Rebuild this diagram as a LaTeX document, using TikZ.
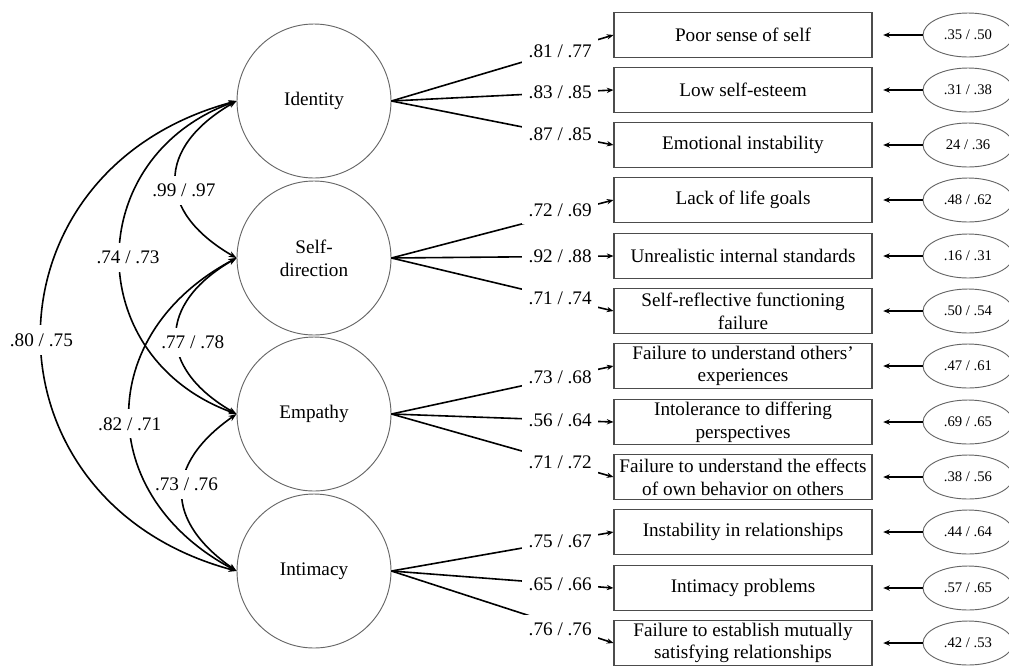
\documentclass[tikz,border=0pt]{standalone}
\usepackage{fontspec}
\setmainfont{Liberation Serif}
\usepackage{tikz}
\usetikzlibrary{arrows.meta,shapes.geometric}

\begin{document}
\begin{tikzpicture}[x=0.75pt, y=0.75pt,
    font=\fontsize{14.4}{17}\selectfont,
    latent/.style={circle, draw=black!60, line width=0.7pt, minimum size=115.5pt, align=center, inner sep=0pt},
    item/.style={rectangle, draw=black!70, line width=0.8pt, minimum width=193.5pt, minimum height=33.75pt, align=center, inner sep=1pt},
    err/.style={ellipse, draw=black!60, line width=0.7pt, minimum width=67.5pt, minimum height=33pt, inner sep=0pt, font=\fontsize{11}{13}\selectfont},
    load/.style={line width=1.2pt, -{Stealth[length=5pt, width=4pt]}},
    resid/.style={line width=1.1pt, shorten >=8pt, -{Stealth[length=5pt, width=4pt]}},
    cov/.style={line width=1.2pt, {Stealth[length=6pt, width=4.5pt]}-{Stealth[length=6pt, width=4.5pt]}},
    coef/.style={fill=white, inner xsep=5pt, inner ysep=6pt},
  ]
  \useasboundingbox (0,0) rectangle (1009,-665);

  % latent factors
  \node[latent] (Identity) at (314,-101) {Identity};
  \node[latent] (SelfDir) at (314,-258) {Self-\\direction};
  \node[latent] (Empathy) at (314,-414) {Empathy};
  \node[latent] (Intimacy) at (314,-571) {Intimacy};

  % observed items
  \node[item] (b1) at (743,-35) {Poor sense of self};
  \node[item] (b2) at (743,-90) {Low self-esteem};
  \node[item] (b3) at (743,-145) {Emotional instability};
  \node[item] (b4) at (743,-200) {Lack of life goals};
  \node[item] (b5) at (743,-256) {Unrealistic internal standards};
  \node[item] (b6) at (743,-311) {Self-reflective functioning\\failure};
  \node[item] (b7) at (743,-366) {Failure to understand others'\\experiences};
  \node[item] (b8) at (743,-422) {Intolerance to differing\\perspectives};
  \node[item] (b9) at (743,-477) {Failure to understand the effects\\of own behavior on others};
  \node[item] (b10) at (743,-532) {Instability in relationships};
  \node[item] (b11) at (743,-588) {Intimacy problems};
  \node[item] (b12) at (743,-643) {Failure to establish mutually\\satisfying relationships};

  % residuals
  \node[err] (e1) at (968,-35) {.35 / .50};
  \node[err] (e2) at (968,-90) {.31 / .38};
  \node[err] (e3) at (968,-145) {24 / .36};
  \node[err] (e4) at (968,-200) {.48 / .62};
  \node[err] (e5) at (968,-256) {.16 / .31};
  \node[err] (e6) at (968,-311) {.50 / .54};
  \node[err] (e7) at (968,-366) {.47 / .61};
  \node[err] (e8) at (968,-422) {.69 / .65};
  \node[err] (e9) at (968,-477) {.38 / .56};
  \node[err] (e10) at (968,-532) {.44 / .64};
  \node[err] (e11) at (968,-588) {.57 / .65};
  \node[err] (e12) at (968,-643) {.42 / .53};

  % loadings
  \draw[load] (Identity.east) -- (b1.west) node[coef, pos=0.76] {.81 / .77};
  \draw[load] (Identity.east) -- (b2.west) node[coef, pos=0.76] {.83 / .85};
  \draw[load] (Identity.east) -- (b3.west) node[coef, pos=0.76] {.87 / .85};
  \draw[load] (SelfDir.east) -- (b4.west) node[coef, pos=0.76, yshift=3pt] {.72 / .69};
  \draw[load] (SelfDir.east) -- (b5.west) node[coef, pos=0.76] {.92 / .88};
  \draw[load] (SelfDir.east) -- (b6.west) node[coef, pos=0.76] {.71 / .74};
  \draw[load] (Empathy.east) -- (b7.west) node[coef, pos=0.76] {.73 / .68};
  \draw[load] (Empathy.east) -- (b8.west) node[coef, pos=0.76] {.56 / .64};
  \draw[load] (Empathy.east) -- (b9.west) node[coef, pos=0.76] {.71 / .72};
  \draw[load] (Intimacy.east) -- (b10.west) node[coef, pos=0.76] {.75 / .67};
  \draw[load] (Intimacy.east) -- (b11.west) node[coef, pos=0.76] {.65 / .66};
  \draw[load] (Intimacy.east) -- (b12.west) node[coef, pos=0.76, yshift=-3pt] {.76 / .76};

  % error terms
  \draw[resid] (e1) -- (b1);
  \draw[resid] (e2) -- (b2);
  \draw[resid] (e3) -- (b3);
  \draw[resid] (e4) -- (b4);
  \draw[resid] (e5) -- (b5);
  \draw[resid] (e6) -- (b6);
  \draw[resid] (e7) -- (b7);
  \draw[resid] (e8) -- (b8);
  \draw[resid] (e9) -- (b9);
  \draw[resid] (e10) -- (b10);
  \draw[resid] (e11) -- (b11);
  \draw[resid] (e12) -- (b12);

  % factor correlations
  \draw[cov] (Identity.west) to[out=210, in=150, distance=70pt] node[coef, xshift=6pt, yshift=-8pt] {.99 / .97} (SelfDir.west);
  \draw[cov] (SelfDir.west) to[out=210, in=150, distance=69pt] node[coef, xshift=12pt, yshift=-5pt] {.77 / .78} (Empathy.west);
  \draw[cov] (Empathy.west) to[out=215, in=145, distance=66pt] node[coef, xshift=3pt, yshift=6pt] {.73 / .76} (Intimacy.west);
  \draw[cov] (Identity.west) to[out=200, in=160, distance=124pt] node[coef, xshift=6pt] {.74 / .73} (Empathy.west);
  \draw[cov] (SelfDir.west) to[out=208, in=152, distance=121pt] node[coef, yshift=-7pt] {.82 / .71} (Intimacy.west);
  \draw[cov] (Identity.west) to[out=195, in=165, distance=202pt] node[coef, yshift=-3pt] {.80 / .75} (Intimacy.west);
\end{tikzpicture}
\end{document}
